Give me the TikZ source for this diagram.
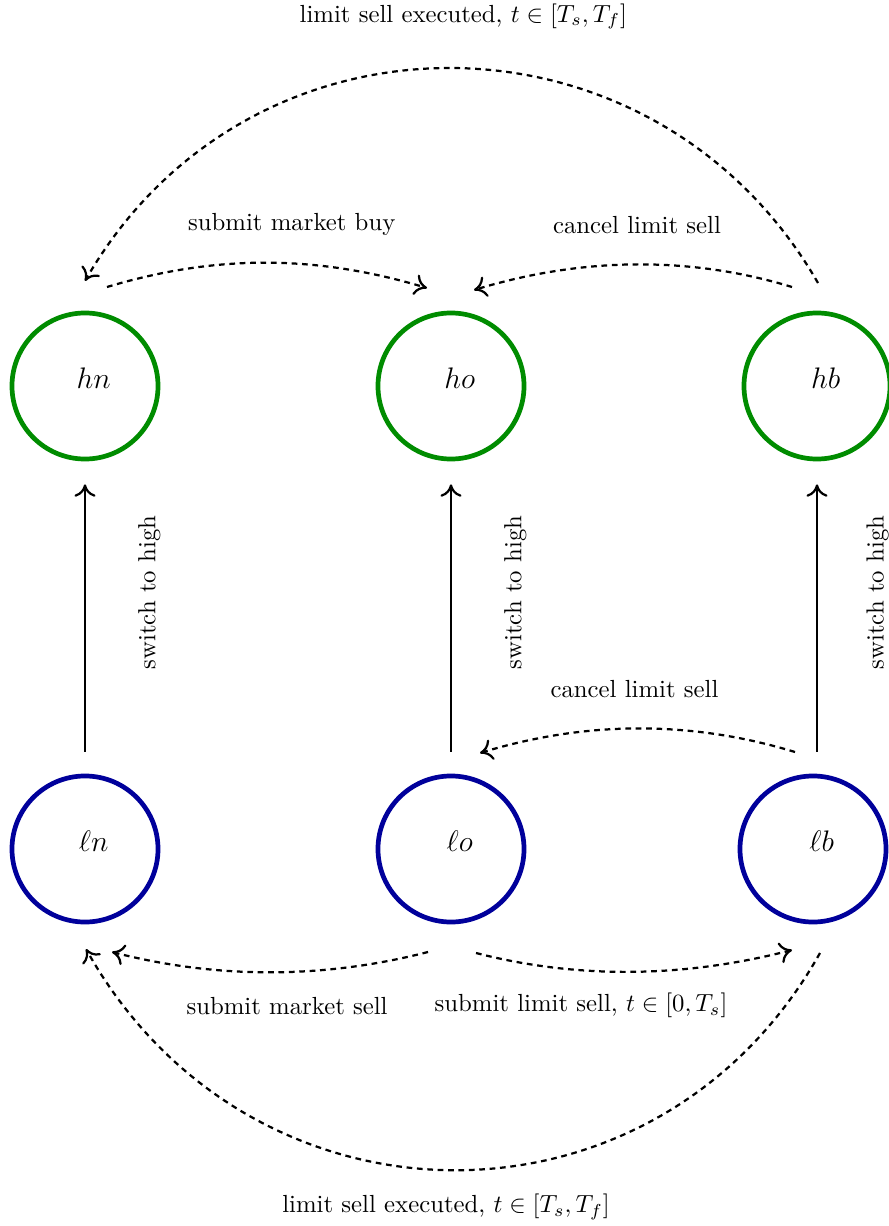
\documentclass[tikz,border=0pt]{standalone}
\usetikzlibrary{calc,arrows.meta}
\definecolor{higreen}{RGB}{0,140,0}
\definecolor{loblue}{RGB}{0,0,155}
\tikzset{
  statenode/.style={circle, line width=1.9pt, draw, minimum size=59pt, inner sep=0pt},
  hstate/.style={statenode, draw=higreen},
  lstate/.style={statenode, draw=loblue},
  stlabel/.style={font=\fontsize{13.2}{16}\selectfont, xshift=3.5pt, yshift=3pt},
  tip/.style={-{To[length=5pt, width=8.5pt]}},
  trans/.style={tip, line width=0.9pt, dash pattern=on 2.3pt off 1.9pt},
  uparrow/.style={tip, line width=0.9pt, shorten <=8.9pt, shorten >=9.3pt},
  sidelabel/.style={pos=0.58, rotate=90},
}
\begin{document}
\begin{tikzpicture}[x=0.404pt, y=-0.404pt]
\useasboundingbox (0,0) rectangle (888,1226);

% states
\node[hstate, label={[stlabel]center:$hn$}] (hn) at (85,386) {};
\node[hstate, label={[stlabel]center:$ho$}] (ho) at (451,386) {};
\node[hstate, label={[stlabel]center:$hb$}] (hb) at (817,386) {};
\node[lstate, label={[stlabel]center:$\ell n$}] (ln) at (85,849) {};
\node[lstate, label={[stlabel]center:$\ell o$}] (lo) at (451,849) {};
\node[lstate, label={[stlabel]center:$\ell b$}] (lb) at (813,849) {};

% switch to high
\draw[uparrow] (ln.north) -- (hn.south) node[xshift=26pt, sidelabel] {switch to high};
\draw[uparrow] (lo.north) -- (ho.south) node[xshift=26pt, sidelabel] {switch to high};
\draw[uparrow] ($(lb.north)+(4,0)$) coordinate (lbup) -- (hb.south) node[xshift=24.5pt, sidelabel] {switch to high};

% endpoints of dashed transitions
\coordinate (s1) at ($(hn)+(22,-99)$);
\coordinate (e1) at ($(ho)+(-24,-98)$);
\coordinate (s2) at ($(hb)+(-25,-99)$);
\coordinate (e2) at ($(ho)+(23,-96)$);
\coordinate (s3) at ($(hb)+(1,-103)$);
\coordinate (e3) at ($(hn)+(0,-105)$);
\coordinate (s4) at ($(lb)+(-18,-97)$);
\coordinate (e4) at ($(lo)+(29,-96)$);
\coordinate (s5) at ($(lo)+(-23,103)$);
\coordinate (e5) at ($(ln)+(27,103)$);
\coordinate (s6) at ($(lo)+(25,104)$);
\coordinate (e6) at ($(lb)+(-21,101)$);
\coordinate (s7) at ($(lb)+(7,104)$);
\coordinate (e7) at ($(ln)+(1,100)$);

% high row
\draw[trans] (s1) .. controls +(110,-33) and +(-110,-33) .. (e1)
  node[midway, xshift=10pt, yshift=15.4pt] {submit market buy};
\draw[trans] (s2) .. controls +(-105,-32) and +(105,-32) .. (e2)
  node[midway, xshift=1.6pt, yshift=15.8pt] {cancel limit sell};
\draw[trans] (s3) .. controls +(-164,-285) and +(164,-285) .. (e3)
  node[midway, xshift=4.8pt, yshift=21pt] {limit sell executed, $t\in[T_s,T_f]$};

% low row
\draw[trans] (s4) .. controls +(-105,-32) and +(105,-32) .. (e4)
  node[midway, xshift=-1.2pt, yshift=15.8pt] {cancel limit sell};
\draw[trans] (s5) .. controls +(-105,27) and +(105,27) .. (e5)
  node[midway, xshift=6.9pt, yshift=-13.7pt] {submit market sell};
\draw[trans] (s6) .. controls +(105,27) and +(-105,27) .. (e6)
  node[midway, xshift=-21.4pt, yshift=-13.7pt] {submit limit sell, $t\in[0,T_s]$};
\draw[trans] (s7) .. controls +(-164,292) and +(164,292) .. (e7)
  node[midway, xshift=-2.8pt, yshift=-15pt] {limit sell executed, $t\in[T_s,T_f]$};
\end{tikzpicture}
\end{document}
